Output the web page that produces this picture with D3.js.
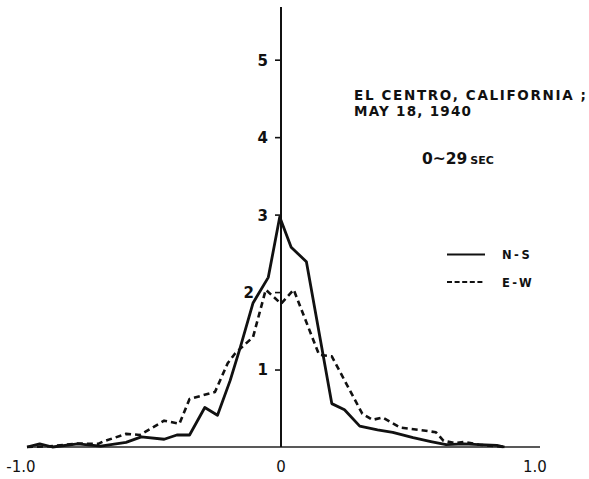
<!DOCTYPE html>
<html>
<head>
<meta charset="utf-8">
<script src="https://cdn.jsdelivr.net/npm/d3@7"></script>
<style>
  html, body { margin: 0; padding: 0; background: #fff; }
  svg { display: block; }
  text { font-family: "DejaVu Sans", "Liberation Sans", sans-serif; fill: #111; }
</style>
</head>
<body>
<svg id="chart" width="589" height="479"></svg>
<script>
// Normalized amplitude (x) versus frequency density (y), El Centro 1940 record
const nsPoints = [
  [-1.00, 0.00], [-0.95, 0.04], [-0.90, 0.00], [-0.80, 0.04], [-0.71, 0.01],
  [-0.61, 0.06], [-0.55, 0.13], [-0.46, 0.10], [-0.41, 0.155], [-0.36, 0.155],
  [-0.30, 0.51], [-0.25, 0.41], [-0.20, 0.86], [-0.16, 1.29], [-0.11, 1.86],
  [-0.05, 2.19], [-0.005, 2.97], [0.04, 2.58], [0.10, 2.39], [0.20, 0.56],
  [0.25, 0.48], [0.31, 0.27], [0.38, 0.22], [0.44, 0.19], [0.52, 0.12],
  [0.59, 0.07], [0.65, 0.03], [0.72, 0.04], [0.78, 0.03], [0.85, 0.02],
  [0.88, 0.00]
];
const ewPoints = [
  [-1.00, 0.00], [-0.91, 0.01], [-0.80, 0.045], [-0.72, 0.04], [-0.70, 0.07],
  [-0.61, 0.17], [-0.555, 0.155], [-0.46, 0.34], [-0.40, 0.30], [-0.36, 0.62],
  [-0.26, 0.71], [-0.21, 1.08], [-0.18, 1.21], [-0.11, 1.42], [-0.06, 2.03],
  [0.00, 1.85], [0.05, 2.03], [0.15, 1.19], [0.20, 1.17], [0.32, 0.43],
  [0.36, 0.35], [0.40, 0.38], [0.47, 0.25], [0.57, 0.21], [0.61, 0.19],
  [0.64, 0.08], [0.685, 0.05], [0.72, 0.065], [0.78, 0.03], [0.85, 0.01],
  [0.88, 0.00]
];
const xTickValues = [-1, 0, 1];
const xTickLabels = ["-1.0", "0", "1.0"];
const yTickValues = [1, 2, 3, 4, 5];
const seriesNames = ["N-S", "E-W"];
const titleLines = ["EL CENTRO, CALIFORNIA ;", "MAY 18, 1940"];
const durationLabel = ["0~29", "SEC"];

const svg = d3.select("#chart");
const x = d3.scaleLinear().domain([-1, 1]).range([27, 535]);
const y = d3.scaleLinear().domain([0, 5.68]).range([447, 7]);

// horizontal base line
svg.append("line")
  .attr("x1", x(-1)).attr("x2", x(1) + 5)
  .attr("y1", y(0)).attr("y2", y(0))
  .attr("stroke", "#222").attr("stroke-width", 1.6);

// x tick labels
svg.append("g").selectAll("text")
  .data(xTickValues)
  .join("text")
  .attr("x", (d, i) => x(d) + (i === 0 ? -6 : 0))
  .attr("y", 472)
  .attr("text-anchor", "middle")
  .attr("font-size", 15)
  .text((d, i) => xTickLabels[i]);

// vertical axis through zero with ticks on the left
const yAxis = d3.axisLeft(y)
  .tickValues(yTickValues)
  .tickSize(6)
  .tickPadding(7)
  .tickFormat(d3.format("d"));
const gy = svg.append("g")
  .attr("transform", `translate(${x(0)},0)`)
  .call(yAxis);
gy.select(".domain")
  .attr("stroke", "#111").attr("stroke-width", 2)
  .attr("d", `M0,${y(5.68)}V${y(0)}`);
gy.selectAll(".tick line").attr("stroke", "#111").attr("stroke-width", 1.6);
gy.selectAll(".tick text")
  .attr("font-size", 15)
  .attr("font-weight", "bold")
  .attr("font-family", "DejaVu Sans, sans-serif")
  .attr("fill", "#111")
  .attr("dx", d => d === 2 ? -14 : 0)
  .attr("dy", "0.36em");

const line = d3.line().x(d => x(d[0])).y(d => y(d[1]));

// E-W component (dashed)
svg.append("path")
  .datum(ewPoints)
  .attr("d", line)
  .attr("fill", "none")
  .attr("stroke", "#111")
  .attr("stroke-width", 2.6)
  .attr("stroke-dasharray", "6,4")
  .attr("stroke-linejoin", "round");

// N-S component (solid)
svg.append("path")
  .datum(nsPoints)
  .attr("d", line)
  .attr("fill", "none")
  .attr("stroke", "#111")
  .attr("stroke-width", 2.8)
  .attr("stroke-linejoin", "round");

// station and date
svg.append("text")
  .attr("x", 354).attr("y", 100)
  .attr("font-size", 13.5).attr("font-weight", "bold")
  .attr("textLength", 232).attr("lengthAdjust", "spacing")
  .text(titleLines[0]);
svg.append("text")
  .attr("x", 354).attr("y", 115.5)
  .attr("font-size", 13.5).attr("font-weight", "bold")
  .attr("textLength", 117).attr("lengthAdjust", "spacing")
  .text(titleLines[1]);

// record window
const dur = svg.append("text")
  .attr("x", 422).attr("y", 164)
  .attr("font-weight", "bold");
dur.append("tspan").attr("font-size", 15.5).text(durationLabel[0]);
dur.append("tspan").attr("font-size", 11).attr("dx", 3).text(durationLabel[1]);

// legend
const legend = svg.append("g");
const legendRows = [
  { name: seriesNames[0], dash: null, ly: 254.5 },
  { name: seriesNames[1], dash: "5,2.6", ly: 282 }
];
legendRows.forEach(r => {
  legend.append("line")
    .attr("x1", 447).attr("x2", 485)
    .attr("y1", r.ly).attr("y2", r.ly)
    .attr("stroke", "#111")
    .attr("stroke-width", r.dash ? 1.8 : 2.2)
    .attr("stroke-dasharray", r.dash);
  legend.append("text")
    .attr("x", 502).attr("y", r.ly + 4.5)
    .attr("font-size", 11.5).attr("font-weight", "bold")
    .attr("letter-spacing", 2.5)
    .text(r.name);
});
</script>
</body>
</html>
